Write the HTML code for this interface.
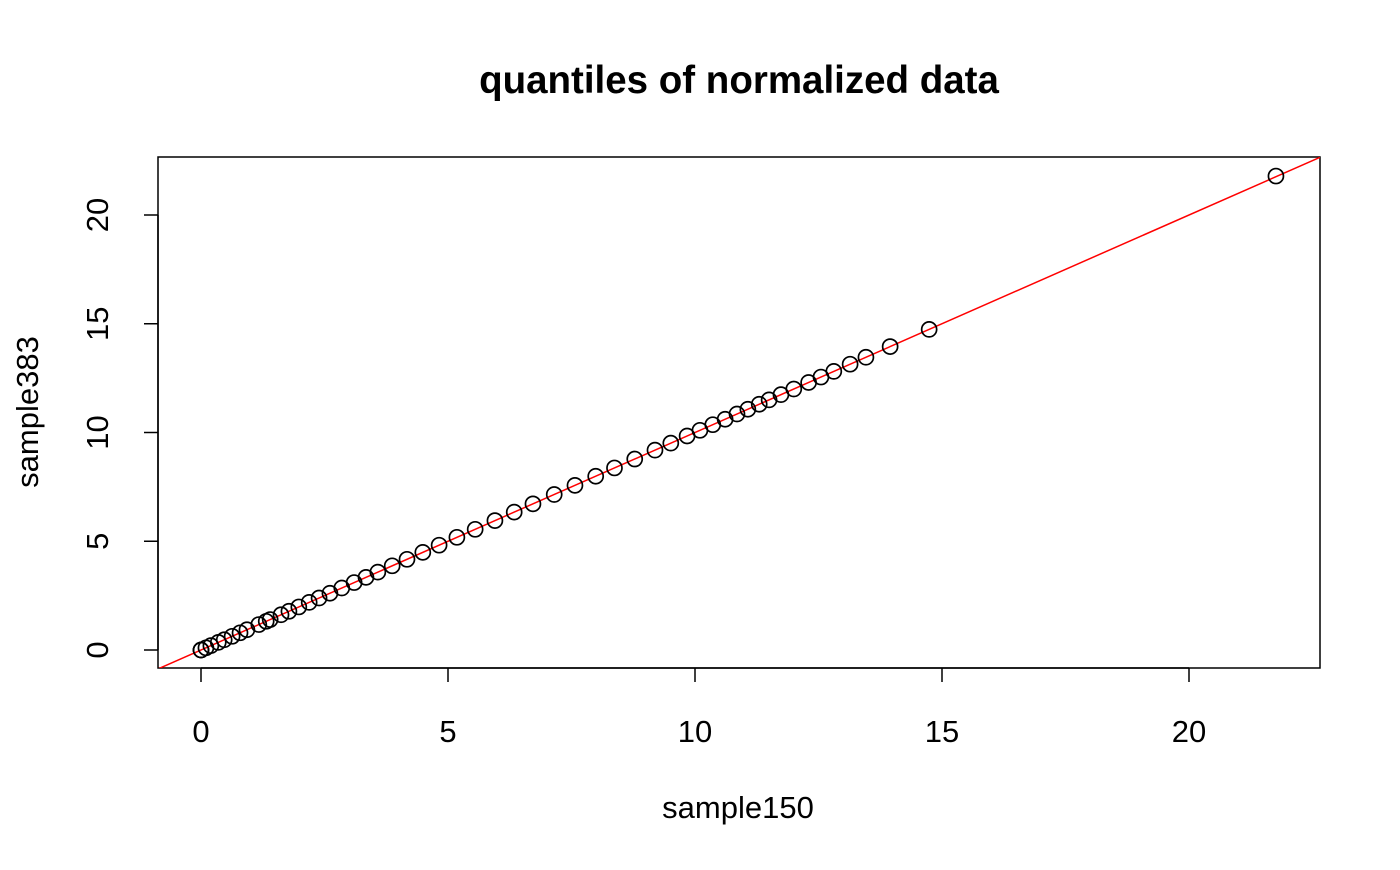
<!DOCTYPE html>
<html><head><meta charset="utf-8"><style>
html,body{margin:0;padding:0;background:#fff;}
svg text{font-family:"Liberation Sans",Arial,sans-serif;fill:#000;}
</style></head><body>
<svg id="chart" width="1400" height="865" viewBox="0 0 1400 865" xmlns="http://www.w3.org/2000/svg">
<text x="739" y="93" text-anchor="middle" font-size="38.5" font-weight="bold">quantiles of normalized data</text>
<rect x="158" y="157" width="1162" height="511" fill="none" stroke="#000" stroke-width="1.5"/>
<g id="xaxis"></g>
<g id="yaxis"></g>
<text x="738" y="818" text-anchor="middle" font-size="31">sample150</text>
<text transform="translate(38,412) rotate(-90)" text-anchor="middle" font-size="31">sample383</text>
<defs><clipPath id="clip"><rect x="158" y="157" width="1162" height="511"/></clipPath></defs>
<g id="marks" clip-path="url(#clip)"></g>
<g id="points"></g>
</svg>
<script>
const xValues = [0,0,0,0.1,0.2,0.35,0.47,0.63,0.79,0.93,1.17,1.32,1.40,1.62,1.78,1.98,2.19,2.39,2.61,2.85,3.10,3.34,3.58,3.87,4.17,4.49,4.82,5.18,5.55,5.95,6.34,6.72,7.15,7.57,7.99,8.37,8.78,9.19,9.51,9.84,10.10,10.36,10.61,10.85,11.07,11.30,11.50,11.74,12.00,12.30,12.55,12.81,13.14,13.46,13.95,14.74,21.76];
const yValues = [0,0,0,0.1,0.2,0.35,0.47,0.63,0.79,0.93,1.17,1.32,1.40,1.62,1.78,1.98,2.19,2.39,2.61,2.85,3.10,3.34,3.58,3.87,4.17,4.49,4.82,5.18,5.55,5.95,6.34,6.72,7.15,7.57,7.99,8.37,8.78,9.19,9.51,9.84,10.10,10.36,10.61,10.85,11.07,11.30,11.50,11.74,12.00,12.30,12.55,12.81,13.14,13.46,13.95,14.74,21.79];
const xTicks = [0,5,10,15,20];
const yTicks = [0,5,10,15,20];
const NS='http://www.w3.org/2000/svg';
function sx(v){return 201+v*49.4;}
function sy(v){return 650-v*21.75;}
function mk(tag,attrs,parent){const e=document.createElementNS(NS,tag);for(const k in attrs)e.setAttribute(k,attrs[k]);parent.appendChild(e);return e;}
const xa=document.getElementById('xaxis'), ya=document.getElementById('yaxis');
mk('line',{x1:sx(xTicks[0]),x2:sx(xTicks[xTicks.length-1]),y1:668,y2:668,stroke:'#000','stroke-width':1.5},xa);
xTicks.forEach(t=>{
  const l=mk('line',{x1:sx(t),x2:sx(t),y1:668,y2:682,stroke:'#000','stroke-width':1.5},xa);
  
  
  const tx=mk('text',{x:sx(t),y:742,'text-anchor':'middle','font-size':31},xa);tx.textContent=t;
  
  
});
mk('line',{y1:sy(yTicks[0]),y2:sy(yTicks[yTicks.length-1]),x1:158,x2:158,stroke:'#000','stroke-width':1.5},ya);
yTicks.forEach(t=>{
  const l=mk('line',{y1:sy(t),y2:sy(t),x1:144,x2:158,stroke:'#000','stroke-width':1.5},ya);
  
  
  const tx=mk('text',{transform:`translate(108,${sy(t)}) rotate(-90)`,'text-anchor':'middle','font-size':31},ya);tx.textContent=t;
  
  
});
const marks=document.getElementById('marks');
const ref=mk('line',{x1:sx(-5),y1:sy(-5),x2:sx(30),y2:sy(30),stroke:'#ff0000','stroke-width':1.5},marks);


const pts=document.getElementById('points');
xValues.forEach((v,i)=>{
  const c=mk('circle',{cx:sx(v),cy:sy(yValues[i]),r:7.5,fill:'none',stroke:'#000','stroke-width':1.7},pts);
  
  
});
</script>
</body></html>
